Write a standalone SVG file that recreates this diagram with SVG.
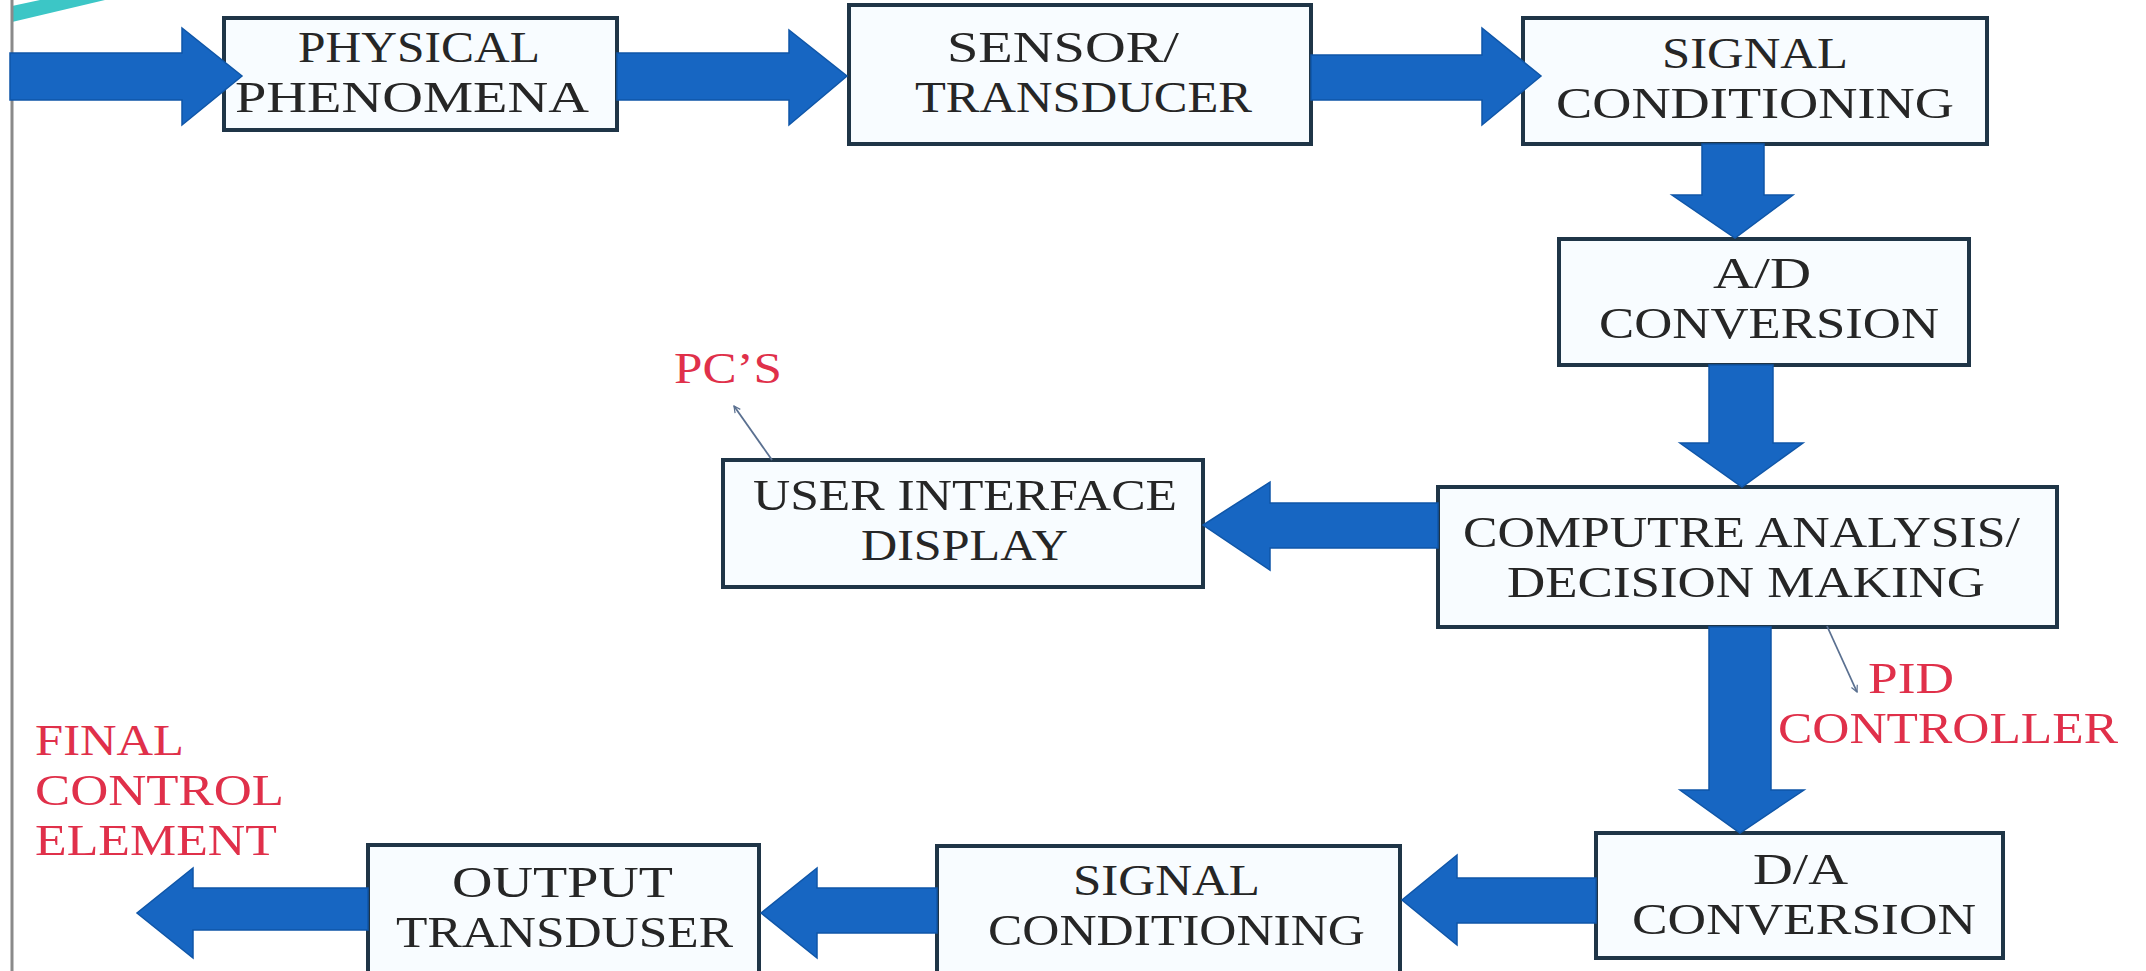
<svg xmlns="http://www.w3.org/2000/svg" width="2146" height="971" viewBox="0 0 2146 971">
  <defs>
    <style>
      .box { fill: #f8fcff; stroke: #1f3547; stroke-width: 4; }
      .t { font-family: "Liberation Serif", "Times New Roman", serif; font-size: 45px; fill: #262626; }
      .r { font-family: "Liberation Serif", "Times New Roman", serif; font-size: 45px; fill: #e0304a; }
      .arr { fill: #1766c2; stroke: #0f56a8; stroke-width: 1.5; stroke-linejoin: miter; }
      .lead { fill: none; stroke: #5a7090; stroke-width: 1.8; }
    </style>
    <marker id="open" viewBox="0 0 10 10" refX="9" refY="5" markerWidth="8" markerHeight="8" orient="auto" markerUnits="userSpaceOnUse">
      <path d="M1,1 L9,5 L1,9" fill="none" stroke="#5a7090" stroke-width="1.5"/>
    </marker>
  </defs>
  <rect width="2146" height="971" fill="#ffffff"/>
  <polygon points="12,6 40,0 105,0 12,22" fill="#3cc6c6"/>
  <line x1="12" y1="0" x2="12" y2="971" stroke="#8a8a8a" stroke-width="3"/>

  <g id="physical">
    <rect class="box" x="224" y="18" width="393" height="112"/>
    <text class="t" x="298" y="62" textLength="242" lengthAdjust="spacingAndGlyphs">PHYSICAL</text>
    <text class="t" x="235" y="112" textLength="354" lengthAdjust="spacingAndGlyphs">PHENOMENA</text>
  </g>
  <g id="sensor">
    <rect class="box" x="849" y="5" width="462" height="139"/>
    <text class="t" x="947" y="62" textLength="232" lengthAdjust="spacingAndGlyphs">SENSOR/</text>
    <text class="t" x="915" y="112" textLength="337" lengthAdjust="spacingAndGlyphs">TRANSDUCER</text>
  </g>
  <g id="signal1">
    <rect class="box" x="1523" y="18" width="464" height="126"/>
    <text class="t" x="1662" y="68" textLength="186" lengthAdjust="spacingAndGlyphs">SIGNAL</text>
    <text class="t" x="1556" y="118" textLength="398" lengthAdjust="spacingAndGlyphs">CONDITIONING</text>
  </g>
  <g id="adc">
    <rect class="box" x="1559" y="239" width="410" height="126"/>
    <text class="t" x="1713" y="288" textLength="98" lengthAdjust="spacingAndGlyphs">A/D</text>
    <text class="t" x="1599" y="338" textLength="340" lengthAdjust="spacingAndGlyphs">CONVERSION</text>
  </g>
  <g id="ui">
    <rect class="box" x="723" y="460" width="480" height="127"/>
    <text class="t" x="753" y="510" textLength="424" lengthAdjust="spacingAndGlyphs">USER INTERFACE</text>
    <text class="t" x="861" y="560" textLength="207" lengthAdjust="spacingAndGlyphs">DISPLAY</text>
  </g>
  <g id="compute">
    <rect class="box" x="1438" y="487" width="619" height="140"/>
    <text class="t" x="1463" y="547" textLength="557" lengthAdjust="spacingAndGlyphs">COMPUTRE ANALYSIS/</text>
    <text class="t" x="1507" y="597" textLength="478" lengthAdjust="spacingAndGlyphs">DECISION MAKING</text>
  </g>
  <g id="dac">
    <rect class="box" x="1596" y="833" width="407" height="125"/>
    <text class="t" x="1753" y="884" textLength="95" lengthAdjust="spacingAndGlyphs">D/A</text>
    <text class="t" x="1632" y="934" textLength="344" lengthAdjust="spacingAndGlyphs">CONVERSION</text>
  </g>
  <g id="signal2">
    <rect class="box" x="937" y="846" width="463" height="150"/>
    <text class="t" x="1073" y="895" textLength="187" lengthAdjust="spacingAndGlyphs">SIGNAL</text>
    <text class="t" x="988" y="945" textLength="377" lengthAdjust="spacingAndGlyphs">CONDITIONING</text>
  </g>
  <g id="output">
    <rect class="box" x="368" y="845" width="391" height="150"/>
    <text class="t" x="452" y="897" textLength="221" lengthAdjust="spacingAndGlyphs">OUTPUT</text>
    <text class="t" x="396" y="947" textLength="337" lengthAdjust="spacingAndGlyphs">TRANSDUSER</text>
  </g>

  <g id="labels">
    <text class="r" x="674" y="383" font-size="40" textLength="108" lengthAdjust="spacingAndGlyphs">PC’S</text>
    <text class="r" x="1868" y="693" textLength="86" lengthAdjust="spacingAndGlyphs">PID</text>
    <text class="r" x="1778" y="743" textLength="340" lengthAdjust="spacingAndGlyphs">CONTROLLER</text>
    <text class="r" x="35" y="755" textLength="149" lengthAdjust="spacingAndGlyphs">FINAL</text>
    <text class="r" x="35" y="805" textLength="249" lengthAdjust="spacingAndGlyphs">CONTROL</text>
    <text class="r" x="35" y="855" textLength="242" lengthAdjust="spacingAndGlyphs">ELEMENT</text>
  </g>

  <g id="connectors">
    <polygon class="arr" points="10,53 182,53 182,28 242,76 182,125 182,100 10,100"/>
    <polygon class="arr" points="617,53 789,53 789,30 847,76 789,125 789,100 617,100"/>
    <polygon class="arr" points="1311,55 1482,55 1482,28 1541,76 1482,125 1482,100 1311,100"/>
    <polygon class="arr" points="1702,144 1764,144 1764,195 1793,195 1735,238 1672,195 1702,195"/>
    <polygon class="arr" points="1709,365 1773,365 1773,443 1803,443 1742,487 1680,443 1709,443"/>
    <polygon class="arr" points="1438,503 1270,503 1270,482 1203,525 1270,570 1270,548 1438,548"/>
    <polygon class="arr" points="1709,627 1771,627 1771,790 1804,790 1740,833 1680,790 1709,790"/>
    <polygon class="arr" points="1596,878 1457,878 1457,855 1402,900 1457,945 1457,923 1596,923"/>
    <polygon class="arr" points="937,888 817,888 817,868 761,913 817,958 817,933 937,933"/>
    <polygon class="arr" points="368,888 193,888 193,868 137,913 193,958 193,930 368,930"/>
    <line class="lead" x1="772" y1="460" x2="734" y2="406" marker-end="url(#open)"/>
    <line class="lead" x1="1827" y1="626" x2="1857" y2="692" marker-end="url(#open)"/>
  </g>
</svg>
